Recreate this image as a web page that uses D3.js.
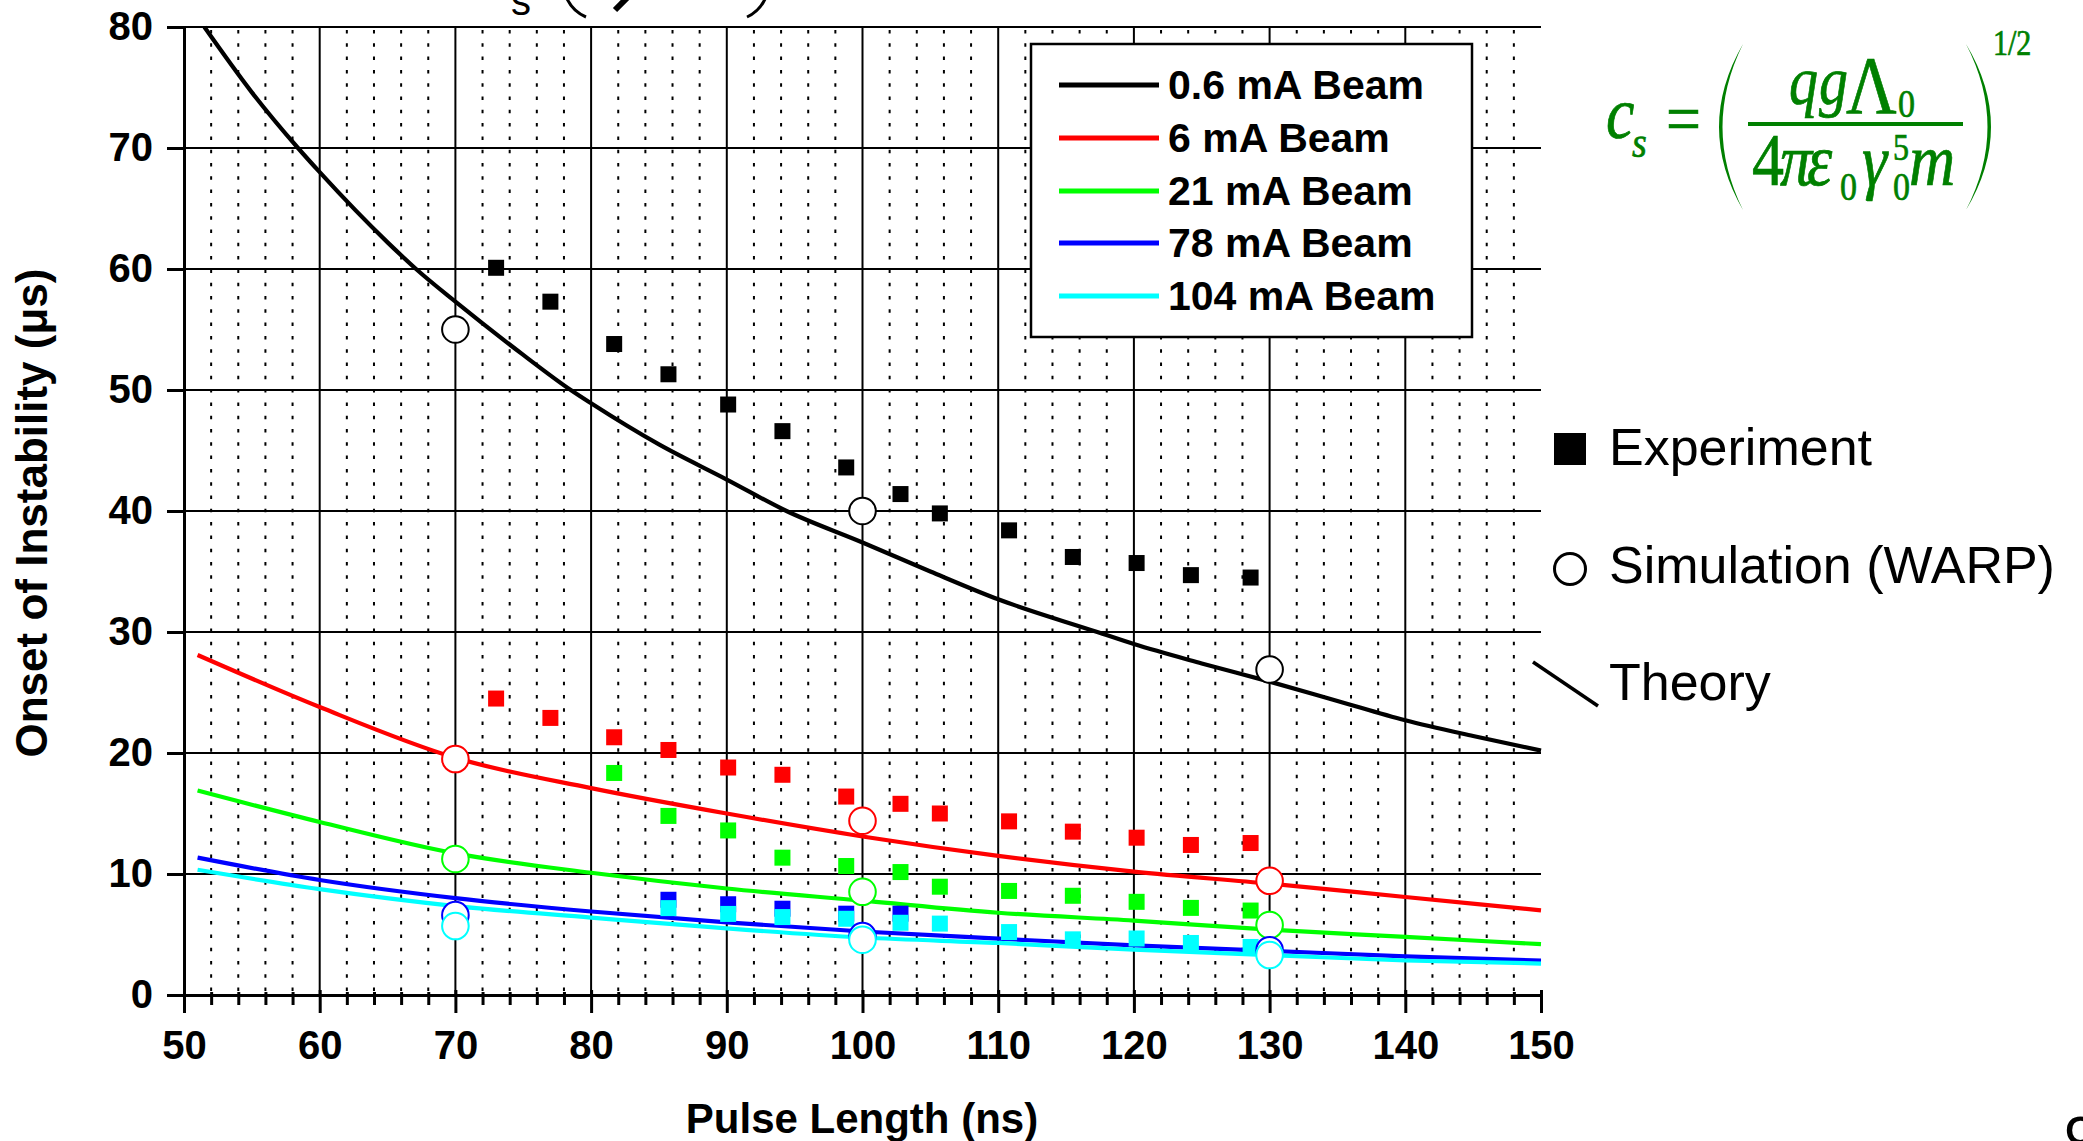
<!DOCTYPE html>
<html><head><meta charset="utf-8">
<script src="https://cdn.jsdelivr.net/npm/d3@7"></script>
<style>body{margin:0;background:#fff;overflow:hidden} svg{display:block}</style>
</head><body>
<svg id="c" width="2083" height="1141"></svg>
<script>
// ---------- data ----------
const xTickValues = [50, 60, 70, 80, 90, 100, 110, 120, 130, 140, 150];
const xMinorTickValues = [52,54,56,58,62,64,66,68,72,74,76,78,82,84,86,88,92,94,96,98,102,104,106,108,112,114,116,118,122,124,126,128,132,134,136,138,142,144,146,148];
const yTickValues = [0, 10, 20, 30, 40, 50, 60, 70, 80];

const beamLabels = ["0.6 mA Beam", "6 mA Beam", "21 mA Beam", "78 mA Beam", "104 mA Beam"];
const beamColors = ["#000000", "#ff0000", "#00ff00", "#0000ff", "#00ffff"];

// Experiment (filled squares)
const expPulse   = [73.0, 77.0, 81.7, 85.7, 90.1, 94.1, 98.8, 102.8, 105.7, 110.8, 115.5, 120.2, 124.2, 128.6];
const expBeam06  = [60.1, 57.3, 53.8, 51.3, 48.8, 46.6, 43.6, 41.4, 39.8, 38.4, 36.2, 35.7, 34.7, 34.5];
const expBeam6   = [24.5, 22.9, 21.3, 20.25, 18.8, 18.2, 16.4, 15.8, 15.0, 14.35, 13.5, 13.0, 12.4, 12.56];
const expBeam21  = [null, null, 18.35, 14.8, 13.6, 11.35, 10.66, 10.16, 8.95, 8.6, 8.2, 7.7, 7.2, 6.98];
const expBeam78  = [null, null, null, 7.87, 7.5, 7.13, 6.72, 6.72, null, null, null, null, null, null];
const expBeam104 = [null, null, null, 7.18, 6.7, 6.44, 6.3, 5.97, 5.9, 5.2, 4.6, 4.67, 4.3, 3.97];

// Simulation WARP (open circles)
const simPulse   = [70, 100, 130];
const simBeam06  = [55.0, 40.0, 26.9];
const simBeam6   = [19.5, 14.4, 9.44];
const simBeam21  = [11.24, 8.53, 5.78];
const simBeam78  = [6.6, 4.87, 3.7];
const simBeam104 = [5.7, 4.57, 3.3];

// Theory curves
const theoryPulse06 = [51.5, 55, 58.4, 60, 65, 67.1, 70, 75, 78.5, 80, 85, 90, 94.4, 100, 105, 110, 117.3, 120, 125, 130, 135, 140, 145, 150];
const theoryBeam06  = [80, 74.6, 70, 68.0, 62.2, 60, 57.3, 52.9, 50, 48.9, 45.5, 42.6, 40, 37.4, 35.0, 32.7, 30, 29.0, 27.4, 25.9, 24.3, 22.7, 21.4, 20.2];
const theoryPulse   = [51, 60, 70, 80, 90, 100, 110, 120, 130, 140, 150];
const theoryBeam6   = [28.1, 23.8, 19.6, 17.1, 15.0, 13.1, 11.5, 10.2, 9.2, 8.1, 7.0];
const theoryBeam21  = [16.9, 14.3, 11.7, 10.1, 8.8, 7.8, 6.8, 6.15, 5.4, 4.8, 4.2];
const theoryBeam78  = [11.35, 9.5, 8.0, 6.9, 6.0, 5.25, 4.66, 4.1, 3.65, 3.2, 2.85];
const theoryBeam104 = [10.35, 8.75, 7.35, 6.4, 5.5, 4.75, 4.3, 3.75, 3.3, 2.85, 2.6];

const expSeries = [expBeam06, expBeam6, expBeam21, expBeam78, expBeam104];
const simSeries = [simBeam06, simBeam6, simBeam21, simBeam78, simBeam104];
const theoryX = [theoryPulse06, theoryPulse, theoryPulse, theoryPulse, theoryPulse];
const theoryY = [theoryBeam06, theoryBeam6, theoryBeam21, theoryBeam78, theoryBeam104];

// ---------- layout ----------
const svg = d3.select("#c");
const L = 184, R = 1541, T = 27, B = 995;
const x = d3.scaleLinear().domain([50, 150]).range([L, R]);
const y = d3.scaleLinear().domain([0, 80]).range([B, T]);
const SANS = "'Liberation Sans', Arial, sans-serif";
const SERIF = "'Liberation Serif', 'Times New Roman', serif";

svg.append("rect").attr("width", 2083).attr("height", 1141).attr("fill", "#fff");

svg.append("clipPath").attr("id", "plotclip").append("rect")
  .attr("x", L).attr("y", T - 2).attr("width", R - L + 2).attr("height", B - T + 4);

// minor dotted verticals
svg.append("g").selectAll("line").data(xMinorTickValues).join("line")
  .attr("x1", d => x(d)).attr("x2", d => x(d)).attr("y1", T + 3).attr("y2", B)
  .attr("stroke", "#000").attr("stroke-width", 2).attr("stroke-dasharray", "3.5 9.8");

// major verticals
svg.append("g").selectAll("line").data(xTickValues.filter(d => d > 50 && d < 150)).join("line")
  .attr("x1", d => x(d)).attr("x2", d => x(d)).attr("y1", T).attr("y2", B)
  .attr("stroke", "#000").attr("stroke-width", 2);

// horizontals
svg.append("g").selectAll("line").data(yTickValues.filter(d => d > 0)).join("line")
  .attr("x1", L).attr("x2", R).attr("y1", d => y(d)).attr("y2", d => y(d))
  .attr("stroke", "#000").attr("stroke-width", 2);

// axes
const gx = svg.append("g").attr("transform", `translate(0,${B})`)
  .call(d3.axisBottom(x).tickValues(xTickValues).tickSize(18).tickSizeOuter(0).tickFormat(d3.format("d")));
gx.select(".domain").attr("stroke-width", 3).attr("stroke", "#000");
gx.selectAll(".tick line").attr("y1", -5).attr("stroke-width", 3);
gx.selectAll(".tick text").attr("y", 64).attr("dy", 0)
  .style("font-family", SANS).style("font-weight", "bold").style("font-size", "40px").attr("fill", "#000");

const gxm = svg.append("g").attr("transform", `translate(0,${B})`)
  .call(d3.axisBottom(x).tickValues(xMinorTickValues).tickSize(10).tickFormat(""));
gxm.select(".domain").remove();
gxm.selectAll(".tick line").attr("y1", -3).attr("stroke-width", 3);

const gy = svg.append("g").attr("transform", `translate(${L},0)`)
  .call(d3.axisLeft(y).tickValues(yTickValues).tickSize(17).tickSizeOuter(0).tickFormat(d3.format("d")));
gy.select(".domain").attr("stroke-width", 3).attr("stroke", "#000");
gy.selectAll(".tick line").attr("stroke-width", 3);
gy.selectAll(".tick text").attr("x", -31).attr("dy", 12)
  .style("font-family", SANS).style("font-weight", "bold").style("font-size", "40px").attr("fill", "#000");

// axis titles
svg.append("text").attr("x", 862).attr("y", 1133).attr("text-anchor", "middle")
  .style("font-family", SANS).style("font-weight", "bold").style("font-size", "42px")
  .text("Pulse Length (ns)");
svg.append("text").attr("transform", "translate(47,513) rotate(-90)").attr("text-anchor", "middle")
  .style("font-family", SANS).style("font-weight", "bold").style("font-size", "44px")
  .text("Onset of Instability (\u03bcs)");

// theory lines
const plot = svg.append("g").attr("clip-path", "url(#plotclip)");
const line = d3.line().x(d => x(d[0])).y(d => y(d[1])).curve(d3.curveMonotoneX);
beamColors.forEach((c, i) => {
  const pts = theoryX[i].map((v, j) => [v, theoryY[i][j]]);
  plot.append("path").datum(pts).attr("d", line).attr("fill", "none")
    .attr("stroke", c).attr("stroke-width", 4.2).attr("stroke-linejoin", "round");
});

// experiment squares
const SQ = 16;
beamColors.forEach((c, i) => {
  const pts = expPulse.map((v, j) => [v, expSeries[i][j]]).filter(d => d[1] !== null);
  svg.append("g").selectAll("rect").data(pts).join("rect")
    .attr("x", d => x(d[0]) - SQ / 2).attr("y", d => y(d[1]) - SQ / 2)
    .attr("width", SQ).attr("height", SQ).attr("fill", c);
});

// simulation circles
beamColors.forEach((c, i) => {
  const pts = simPulse.map((v, j) => [v, simSeries[i][j]]);
  svg.append("g").selectAll("circle").data(pts).join("circle")
    .attr("cx", d => x(d[0])).attr("cy", d => y(d[1])).attr("r", 13.3)
    .attr("fill", "#fff").attr("stroke", c).attr("stroke-width", 2);
});

// legend box
const lg = svg.append("g");
lg.append("rect").attr("x", 1031).attr("y", 44).attr("width", 441).attr("height", 293)
  .attr("fill", "#fff").attr("stroke", "#000").attr("stroke-width", 2.5);
const rowY = [85, 138, 191, 243, 296];
beamLabels.forEach((lab, i) => {
  lg.append("line").attr("x1", 1059).attr("x2", 1159).attr("y1", rowY[i]).attr("y2", rowY[i])
    .attr("stroke", beamColors[i]).attr("stroke-width", 5);
  lg.append("text").attr("x", 1168).attr("y", rowY[i] + 14)
    .style("font-family", SANS).style("font-weight", "bold").style("font-size", "41px").text(lab);
});

// right side key
svg.append("rect").attr("x", 1554).attr("y", 433).attr("width", 32).attr("height", 32).attr("fill", "#000");
svg.append("text").attr("x", 1609).attr("y", 465).style("font-family", SANS).style("font-size", "52px").text("Experiment");
svg.append("circle").attr("cx", 1570).attr("cy", 569).attr("r", 15.5)
  .attr("fill", "#fff").attr("stroke", "#000").attr("stroke-width", 3);
svg.append("text").attr("x", 1609).attr("y", 583).style("font-family", SANS).style("font-size", "52px").text("Simulation (WARP)");
svg.append("line").attr("x1", 1533).attr("y1", 662).attr("x2", 1598).attr("y2", 706)
  .attr("stroke", "#000").attr("stroke-width", 3.5);
svg.append("text").attr("x", 1609).attr("y", 700).style("font-family", SANS).style("font-size", "52px").text("Theory");

// formula (green, vertically stretched serif)
const G = "#008000";
const K = 1.17;
const fg = svg.append("g").attr("fill", G).attr("stroke", G).attr("stroke-width", 0.6);
function ftext(baseY, parts) {
  const t = fg.append("text").attr("transform", `translate(0,${baseY}) scale(1,${K})`)
    .style("font-family", SERIF);
  parts.forEach(p => {
    t.append("tspan").attr("x", p[0]).attr("y", p[1] / K)
      .style("font-size", p[3] + "px").style("font-style", p[4] ? "italic" : "normal").text(p[2]);
  });
}
// c_s
ftext(138, [[1606, 0, "c", 64, true], [1632, 19, "s", 38, true]]);
// =
ftext(143, [[1666, 0, "=", 62, false]]);
// parentheses
fg.append("path").attr("stroke", "none").attr("d", "M1743,44 Q1695,127 1743,210 Q1702,127 1743,44 Z");
fg.append("path").attr("stroke", "none").attr("d", "M1966,44 Q2016,127 1966,210 Q2009,127 1966,44 Z");
// numerator
ftext(113, [[1789, -9, "q", 58, true], [1819, -9, "g", 58, true], [1846, 0, "\u039B", 70, false], [1898, 4, "0", 34, false]]);
// fraction bar
fg.append("rect").attr("stroke", "none").attr("x", 1748).attr("y", 122).attr("width", 215).attr("height", 4);
// denominator
ftext(185, [[1752, 0, "4", 64, false], [1780, 0, "\u03C0", 64, true], [1807, 0, "\u03B5", 64, true],
            [1840, 15, "0", 34, false], [1862, 0, "\u03B3", 64, true], [1893, -25, "5", 32, false],
            [1893, 15, "0", 34, false], [1909, 0, "m", 64, true]]);
// exponent
ftext(55, [[1993, 0, "1/2", 30, false]]);

// fragments of a cut-off heading at the top
svg.append("text").attr("x", 511).attr("y", 15).style("font-family", SANS).style("font-size", "40px").text("s");
svg.append("path").attr("d", "M562,-20 Q565,8 586,17").attr("fill", "none").attr("stroke", "#000").attr("stroke-width", 3);
svg.append("path").attr("d", "M770,-20 Q767,8 747,17").attr("fill", "none").attr("stroke", "#000").attr("stroke-width", 3);
svg.append("path").attr("d", "M627,-2 L615,10").attr("fill", "none").attr("stroke", "#000").attr("stroke-width", 6);

// page number (cut off)
svg.append("text").attr("x", 2064).attr("y", 1158).style("font-family", SANS).style("font-size", "60px").text("9");
</script>
</body></html>
